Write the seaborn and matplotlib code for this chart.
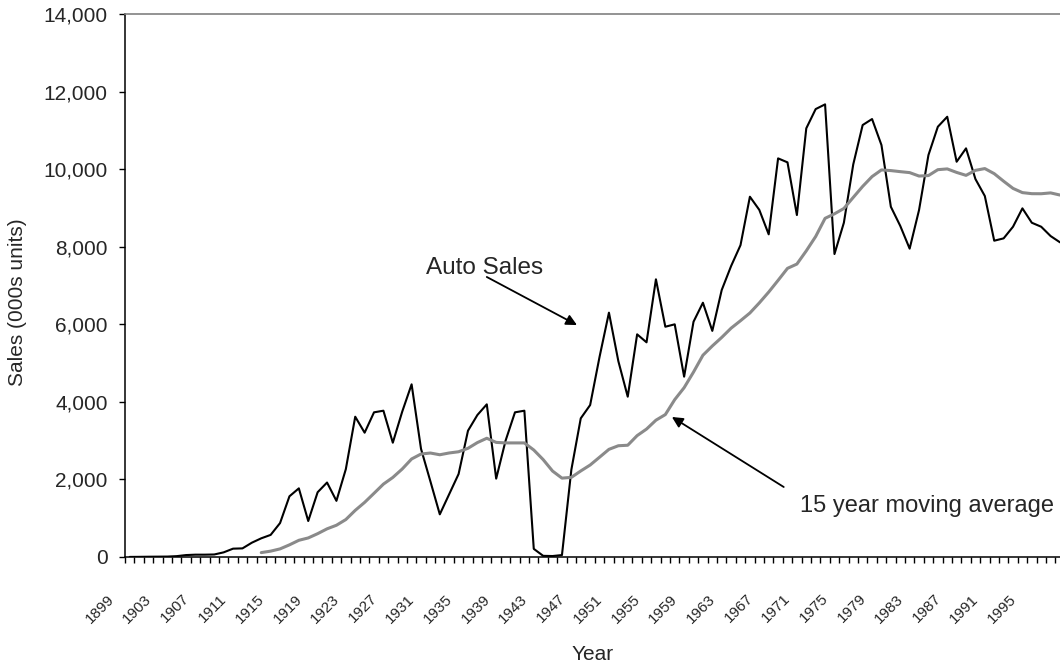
import numpy as np
import pandas as pd
import matplotlib
matplotlib.use("Agg")
import matplotlib.pyplot as plt
import matplotlib.ticker as mticker
from matplotlib.transforms import ScaledTranslation
import seaborn as sns

# annual auto sales, 000s units, 1899-1998
years = list(range(1899, 1999))
sales = [
    2, 4, 7, 9, 11, 22, 50, 60, 60, 65,                              # 1899-1908
    120, 215, 222, 369, 482, 570, 875, 1565, 1770, 928,              # 1909-1918
    1670, 1920, 1448, 2265, 3617, 3205, 3730, 3772, 2947, 3747,      # 1919-1928
    4452, 2790, 1950, 1100, 1620, 2140, 3256, 3661, 3936, 2020,      # 1929-1938
    3000, 3730, 3772, 210, 30, 25, 50, 2250, 3575, 3918,             # 1939-1948
    5160, 6300, 5050, 4133, 5741, 5535, 7160, 5937, 5999, 4649,      # 1949-1958
    6066, 6556, 5830, 6883, 7502, 8040, 9289, 8950, 8319, 10278,     # 1959-1968
    10175, 8817, 11052, 11549, 11670, 7811, 8618, 10124, 11137, 11292,  # 1969-1978
    10621, 9030, 8537, 7950, 8946, 10363, 11093, 11351, 10191, 10536,   # 1979-1988
    9745, 9307, 8155, 8215, 8515, 8989, 8618, 8515, 8275, 8113,      # 1989-1998
]
tick_years = list(range(1899, 1999, 4))

sns.set_style("white")
plt.rcParams['font.family'] = ['Liberation Sans', 'DejaVu Sans']

df = pd.DataFrame({'year': years, 'sales': sales})
# the grey curve is the 15 year (trailing) moving average of the sales series
df['ma15'] = df['sales'].rolling(15).mean()

fig = plt.figure(figsize=(10.6, 6.68), dpi=100)
ax = fig.add_axes([125 / 1060, 1 - 557 / 668, 935 / 1060, 543 / 668])

sns.lineplot(data=df, x='year', y='sales', color='black', lw=1.5, ax=ax)
sns.lineplot(data=df, x='year', y='ma15', color='#8a8a8a', lw=2.2, ax=ax)

ax.set_xlim(1898.5, 1998.0)
ax.set_ylim(0, 14000)
ax.set_yticks(np.arange(0, 14001, 2000))
ax.yaxis.set_major_formatter(mticker.StrMethodFormatter('{x:,.0f}'))
ax.set_xticks(tick_years)
ax.set_xticks(np.arange(1898.5, 1998.5, 1), minor=True)

ax.tick_params(axis='y', which='major', direction='out', length=4.5, width=1,
               color='black', labelsize=15, pad=8, left=True)
ax.tick_params(axis='x', which='major', length=0, labelsize=11, pad=25)
ax.tick_params(axis='x', which='minor', direction='out', length=4.5, width=1,
               color='black', bottom=True)
for lab in ax.get_xticklabels():
    lab.set_rotation(45)
    lab.set_ha('right')
    lab.set_transform(lab.get_transform() + ScaledTranslation(-0.13, 0, fig.dpi_scale_trans))

for side in ['left', 'bottom']:
    ax.spines[side].set_color('black')
    ax.spines[side].set_linewidth(1.1)
ax.spines['top'].set_color('#808080')
ax.spines['top'].set_linewidth(1.2)
ax.spines['right'].set_visible(False)

ax.set_xlabel('Year', fontsize=15)
ax.xaxis.set_label_coords(0.5, (557 - 655) / 543)
ax.xaxis.label.set_va('center')
ax.set_ylabel('Sales (000s units)', fontsize=15)
ax.yaxis.set_label_coords((18 - 125) / 935, (557 - 302) / 543)
ax.yaxis.label.set_va('center')

arrow = dict(arrowstyle='-|>', color='black', lw=1.3, mutation_scale=16, shrinkA=0, shrinkB=0)
ax.text(1936.8, 7450, 'Auto Sales', fontsize=17.5, ha='center', va='center')
ax.annotate('', xy=(1946.6, 5980), xytext=(1937.0, 7220), arrowprops=arrow)
ax.text(1983.8, 1315, '15 year moving average', fontsize=17, ha='center', va='center', clip_on=False)
ax.annotate('', xy=(1956.7, 3610), xytext=(1968.6, 1805), arrowprops=arrow)

fig.savefig('out.png', dpi=100)
